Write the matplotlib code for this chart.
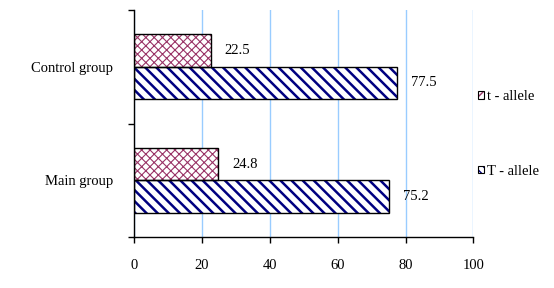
import matplotlib.pyplot as plt
from matplotlib.patches import Patch
from matplotlib.legend_handler import HandlerTuple

plt.rcParams['font.family'] = ['Liberation Serif', 'DejaVu Serif']
plt.rcParams['font.size'] = 10.5

# data
groups = ["Main group", "Control group"]
t_allele = [24.8, 22.5]
T_allele = [75.2, 77.5]
xticks = [0, 20, 40, 60, 80, 100]

fig = plt.figure(figsize=(5.54, 2.88), dpi=100)
ax = fig.add_axes([134.3 / 554, 1 - 237 / 288, (473.3 - 134.3) / 554, (237 - 10) / 288])

ypos = list(range(len(groups)))
h = 0.286
t_col = "#993366"
T_col = "#000080"

plt.rcParams['hatch.linewidth'] = 0.8
ax.barh([y + h / 2 for y in ypos], t_allele, height=h, color="white",
        edgecolor=t_col, linewidth=0, hatch="xxxx", zorder=2)
plt.rcParams['hatch.linewidth'] = 1.8
ax.barh([y - h / 2 for y in ypos], T_allele, height=h, color="white",
        edgecolor=T_col, linewidth=0, hatch="\\\\\\", zorder=2)
# black outlines
ax.barh([y + h / 2 for y in ypos], t_allele, height=h, color="none",
        edgecolor="black", linewidth=1, zorder=3)
ax.barh([y - h / 2 for y in ypos], T_allele, height=h, color="none",
        edgecolor="black", linewidth=1, zorder=3)

for y, v in zip(ypos, t_allele):
    ax.text(v + 4, y + h / 2, f"{v}", va="center", ha="left")
for y, v in zip(ypos, T_allele):
    ax.text(v + 4, y - h / 2, f"{v}", va="center", ha="left")

ax.set_xlim(0, 100)
ax.set_ylim(-0.5, 1.5)
ax.set_xticks(xticks)
ax.set_xticklabels([str(x) for x in xticks])
ax.grid(axis="x", color="#99ccff", linewidth=1, zorder=0)
ax.set_axisbelow(True)

ax.set_yticks([-0.5, 0.5, 1.5])
ax.set_yticklabels([])
ax.set_yticks(ypos, minor=True)
ax.set_yticklabels(groups, minor=True)
ax.tick_params(axis="y", which="minor", length=0, pad=15)
ax.tick_params(axis="y", which="major", length=4, direction="out", width=1)
ax.tick_params(axis="x", length=4, direction="out", width=1, pad=12)

for s in ["top", "right"]:
    ax.spines[s].set_visible(False)
ax.spines["left"].set_linewidth(1)
ax.spines["bottom"].set_linewidth(1)

plt.rcParams['hatch.linewidth'] = 1.0
h_t = (Patch(facecolor="white", edgecolor=t_col, hatch="////", linewidth=0),
       Patch(facecolor="none", edgecolor="black", linewidth=0.8))
h_T = (Patch(facecolor="white", edgecolor=T_col, hatch="\\\\\\\\", linewidth=0),
       Patch(facecolor="none", edgecolor="black", linewidth=0.8))
fig.legend([h_t, h_T], ["t - allele", "T - allele"], loc="upper left",
           handler_map={tuple: HandlerTuple(ndivide=1)},
           bbox_to_anchor=(471 / 554, 1 - 83 / 288), frameon=False,
           handlelength=0.4, handleheight=0.4, handletextpad=0.2,
           labelspacing=4.2, borderpad=0, fontsize=10.5)

fig.savefig("out.png", dpi=100)
